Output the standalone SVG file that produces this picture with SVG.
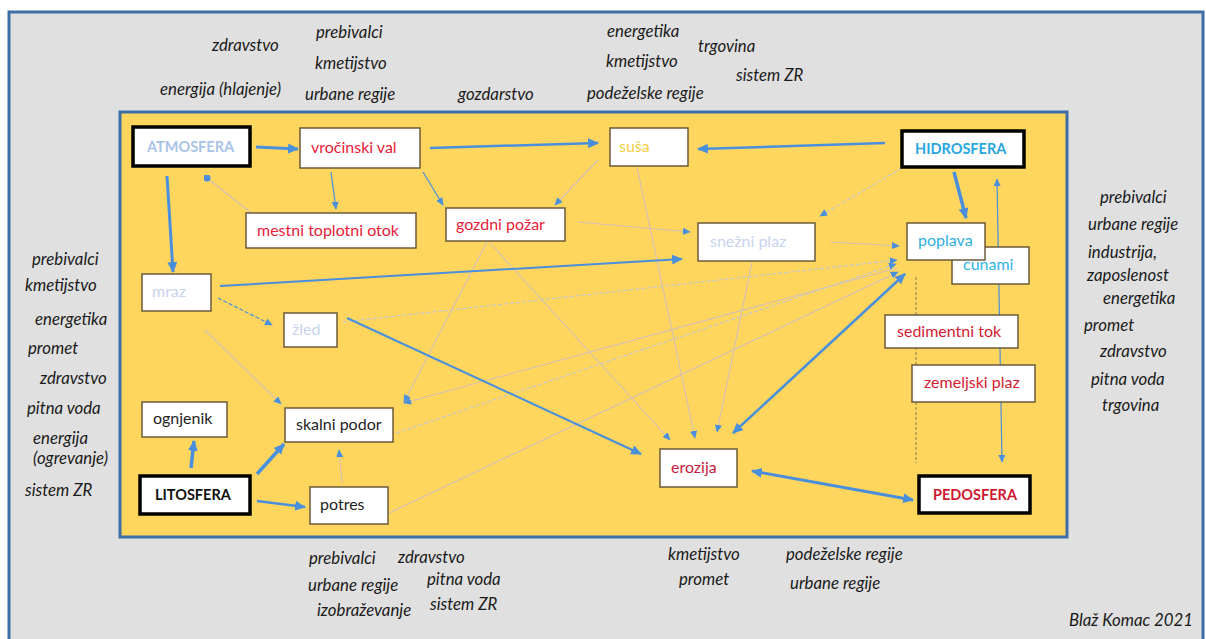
<svg xmlns="http://www.w3.org/2000/svg" width="1206" height="639" viewBox="0 0 1206 639">
<style>
.lbl{font-family:Lato,"Liberation Sans",sans-serif;font-style:italic;font-size:16.8px;fill:#1a1a1a}
.box{fill:#ffffff;stroke:#6b5a3a;stroke-width:1.5}
.sph{fill:#ffffff;stroke:#000000;stroke-width:3.5}
.t{font-family:Lato,"Liberation Sans",sans-serif;font-size:16px}
.tb{font-family:Lato,"Liberation Sans",sans-serif;font-size:14.5px;font-weight:bold}
.thick{stroke:#4a8fdc;fill:none}
.thin{stroke:#4a8fdc;fill:none;stroke-width:1.2}
.faint{stroke:#d4bfb8;fill:none;stroke-width:1.1}
.faintb{stroke:#c4c8d2;fill:none;stroke-width:1.1;stroke-dasharray:4 2}
</style>
<defs>
<marker id="ah" viewBox="0 0 10 10" refX="9" refY="5" markerWidth="11" markerHeight="11" markerUnits="userSpaceOnUse" orient="auto-start-reverse"><path d="M0,0.5 L10,5 L0,9.5 z" fill="#4a8fdc"/></marker>
<marker id="as" viewBox="0 0 10 10" refX="9" refY="5" markerWidth="8" markerHeight="8" markerUnits="userSpaceOnUse" orient="auto-start-reverse"><path d="M0,0.5 L10,5 L0,9.5 z" fill="#4a8fdc"/></marker>
<marker id="dot" viewBox="0 0 10 10" refX="5" refY="5" markerWidth="7" markerHeight="7" markerUnits="userSpaceOnUse"><circle cx="5" cy="5" r="5" fill="#4a8fdc"/></marker>
</defs>
<rect x="0" y="0" width="1206" height="639" fill="#ffffff"/>
<rect x="9" y="12" width="1194" height="640" fill="#e0e0e0" stroke="#3e6ea6" stroke-width="3"/>
<rect x="120" y="112" width="947" height="425" fill="#fed65e" stroke="#3e6ea6" stroke-width="3"/>

<g id="labels">
<text class="lbl" x="212" y="51">zdravstvo</text>
<text class="lbl" x="316" y="38">prebivalci</text>
<text class="lbl" x="315" y="69">kmetijstvo</text>
<text class="lbl" x="160" y="95">energija (hlajenje)</text>
<text class="lbl" x="305" y="100">urbane regije</text>
<text class="lbl" x="458" y="100">gozdarstvo</text>
<text class="lbl" x="607" y="37">energetika</text>
<text class="lbl" x="698" y="52">trgovina</text>
<text class="lbl" x="606" y="67">kmetijstvo</text>
<text class="lbl" x="736" y="81">sistem ZR</text>
<text class="lbl" x="587" y="99">podeželske regije</text>

<text class="lbl" x="32" y="265">prebivalci</text>
<text class="lbl" x="25" y="291">kmetijstvo</text>
<text class="lbl" x="35" y="325">energetika</text>
<text class="lbl" x="28" y="354">promet</text>
<text class="lbl" x="40" y="384">zdravstvo</text>
<text class="lbl" x="27" y="414">pitna voda</text>
<text class="lbl" x="33" y="444">energija</text>
<text class="lbl" x="33" y="464">(ogrevanje)</text>
<text class="lbl" x="25" y="496">sistem ZR</text>

<text class="lbl" x="1100" y="203">prebivalci</text>
<text class="lbl" x="1088" y="230">urbane regije</text>
<text class="lbl" x="1088" y="258">industrija,</text>
<text class="lbl" x="1087" y="281">zaposlenost</text>
<text class="lbl" x="1103" y="304">energetika</text>
<text class="lbl" x="1084" y="331">promet</text>
<text class="lbl" x="1100" y="357">zdravstvo</text>
<text class="lbl" x="1091" y="385">pitna voda</text>
<text class="lbl" x="1102" y="411">trgovina</text>

<text class="lbl" x="309" y="564">prebivalci</text>
<text class="lbl" x="398" y="563">zdravstvo</text>
<text class="lbl" x="308" y="591">urbane regije</text>
<text class="lbl" x="427" y="585">pitna voda</text>
<text class="lbl" x="317" y="616">izobraževanje</text>
<text class="lbl" x="430" y="610">sistem ZR</text>
<text class="lbl" x="668" y="560">kmetijstvo</text>
<text class="lbl" x="679" y="585">promet</text>
<text class="lbl" x="786" y="560">podeželske regije</text>
<text class="lbl" x="790" y="589">urbane regije</text>
<text class="lbl" x="1069" y="626">Blaž Komac 2021</text>
</g>

<g id="connectors">
<line x1="916" y1="277" x2="916" y2="463" stroke="#8a7a50" stroke-width="1" stroke-dasharray="3 2"/>
<path class="thin" d="M1002,462 L997,179" stroke-width="1.5" marker-start="url(#as)" marker-end="url(#as)"/>
<path class="faint" d="M250,212 L207,178" marker-end="url(#dot)"/>
<path class="faint" d="M598,160 L555,205" marker-end="url(#as)"/>
<path class="faintb" d="M902,168 L820,216" marker-end="url(#as)"/>
<path class="faint" d="M578,222 L690,232" marker-end="url(#as)"/>
<path class="faint" d="M830,242 L899,246" marker-end="url(#as)"/>
<path class="faintb" d="M343,322 L897,260" marker-end="url(#as)"/>
<path class="faint" d="M897,268 L404,403" marker-end="url(#as)"/>
<path class="faintb" d="M396,433 L896,264" marker-end="url(#as)"/>
<path class="faint" d="M389,513 L898,272" marker-end="url(#as)"/>
<path class="faint" d="M487,242 L404,402" marker-end="url(#as)"/>
<path class="faint" d="M205,330 L281,404" marker-end="url(#as)"/>
<path class="faint" d="M490,243 L670,440" marker-end="url(#as)"/>
<path class="faint" d="M637,167 L695,438" marker-end="url(#as)"/>
<path class="faint" d="M752,262 L717,432" marker-end="url(#as)"/>
<path class="faint" d="M342,483 L339,450" marker-end="url(#as)"/>
<path class="thin" d="M331,172 L336,209" marker-end="url(#as)"/>
<path class="thin" d="M423,172 L443,205" marker-end="url(#as)"/>
<path class="thin" d="M218,298 L272,325" stroke-dasharray="4 2" marker-end="url(#as)"/>
<path class="thick" d="M256,147 L298,149" stroke-width="3" marker-end="url(#ah)"/>
<path class="thick" d="M430,148 L598,143" stroke-width="2.5" marker-end="url(#ah)"/>
<path class="thick" d="M885,143 L698,149" stroke-width="2.5" marker-end="url(#ah)"/>
<path class="thick" d="M167,176 L173,272" stroke-width="3" marker-end="url(#ah)"/>
<path class="thick" d="M954,172 L966,218" stroke-width="3.5" marker-end="url(#ah)"/>
<path class="thick" d="M220,286 L682,259" stroke-width="2" marker-end="url(#ah)"/>
<path class="thick" d="M347,318 L641,454" stroke-width="2" marker-end="url(#ah)"/>
<path class="thick" d="M733,433 L905,274" stroke-width="2.5" marker-start="url(#ah)" marker-end="url(#ah)"/>
<path class="thick" d="M752,471 L913,500" stroke-width="3" marker-start="url(#ah)" marker-end="url(#ah)"/>
<path class="thick" d="M191,468 L194,441" stroke-width="3.5" marker-end="url(#ah)"/>
<path class="thick" d="M257,474 L284,444" stroke-width="3.5" marker-end="url(#ah)"/>
<path class="thick" d="M257,501 L305,507" stroke-width="2.5" marker-end="url(#ah)"/>
</g>

<g id="atmosfera"><rect class="sph" x="133" y="127" width="117" height="39"/><text class="tb" x="147" y="152" fill="#a9c3e8">ATMOSFERA</text></g>
<g id="vrocinski-val"><rect class="box" x="300" y="128" width="120" height="40"/><text class="t" x="311" y="153" fill="#e8203a">vročinski val</text></g>
<g id="mestni-toplotni-otok"><rect class="box" x="246" y="213" width="170" height="35"/><text class="t" x="257" y="236" fill="#e8203a">mestni toplotni otok</text></g>
<g id="susa"><rect class="box" x="610" y="128" width="78" height="38"/><text class="t" x="619" y="152" fill="#f6cf45">suša</text></g>
<g id="hidrosfera"><rect class="sph" x="902" y="131" width="122" height="36"/><text class="tb" x="915" y="154" fill="#29a6e0">HIDROSFERA</text></g>
<g id="gozdni-pozar"><rect class="box" x="446" y="208" width="119" height="33"/><text class="t" x="456" y="230" fill="#e8203a">gozdni požar</text></g>
<g id="snezni-plaz"><rect class="box" x="698" y="223" width="117" height="38"/><text class="t" x="710" y="247" fill="#c8d3ee">snežni plaz</text></g>
<g id="cunami"><rect class="box" x="952" y="247" width="77" height="37"/><text class="t" x="963" y="270" fill="#2fb4e6">cunami</text></g>
<g id="poplava"><rect class="box" x="907" y="223" width="78" height="37"/><text class="t" x="918" y="246" fill="#2fb0e0">poplava</text></g>
<g id="mraz"><rect class="box" x="142" y="274" width="69" height="37"/><text class="t" x="152" y="297" fill="#c8d3ee">mraz</text></g>
<g id="zled"><rect class="box" x="284" y="313" width="53" height="34"/><text class="t" x="292" y="335" fill="#c8d3ee">žled</text></g>
<g id="sedimentni-tok"><rect class="box" x="885" y="315" width="133" height="33"/><text class="t" x="897" y="337" fill="#d42030">sedimentni tok</text></g>
<g id="zemeljski-plaz"><rect class="box" x="912" y="365" width="123" height="37"/><text class="t" x="924" y="388" fill="#d42030">zemeljski plaz</text></g>
<g id="ognjenik"><rect class="box" x="142" y="402" width="85" height="35"/><text class="t" x="153" y="424" fill="#1e1e1e">ognjenik</text></g>
<g id="skalni-podor"><rect class="box" x="285" y="408" width="108" height="34"/><text class="t" x="296" y="430" fill="#1e1e1e">skalni podor</text></g>
<g id="litosfera"><rect class="sph" x="140" y="476" width="110" height="38"/><text class="tb" x="155" y="500" fill="#111111">LITOSFERA</text></g>
<g id="potres"><rect class="box" x="310" y="487" width="78" height="37"/><text class="t" x="320" y="510" fill="#1e1e1e">potres</text></g>
<g id="erozija"><rect class="box" x="660" y="449" width="77" height="38"/><text class="t" x="671" y="473" fill="#c82040">erozija</text></g>
<g id="pedosfera"><rect class="sph" x="919" y="476" width="111" height="37"/><text class="tb" x="933" y="500" fill="#d01830">PEDOSFERA</text></g>
</svg>
